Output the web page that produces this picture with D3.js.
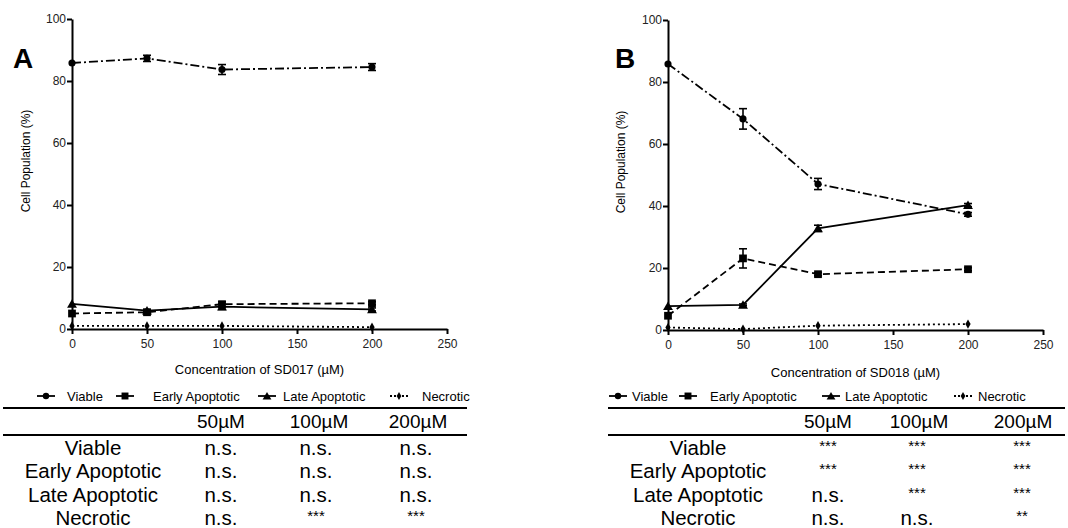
<!DOCTYPE html>
<html>
<head>
  <style>
    body { margin: 0; background: #fff; }
    text { font-family: "Liberation Sans", Arial, sans-serif; fill: #000; }
    .axis path, .axis line { stroke: #000; stroke-width: 2px; }
    .axis text { font-size: 12px; fill: #222; font-family: "Liberation Sans", Arial, sans-serif; }
  </style>
</head>
<body>
  <script src="https://d3js.org/d3.v7.min.js"></script>
  <script>
    var width = 1068, height = 528;

    // concentrations (µM)
    var doses = [0, 50, 100, 200];
    var seriesNames = ["Viable", "Early Apoptotic", "Late Apoptotic", "Necrotic"];

    // SD017 (panel A) means and SEM
    var viableA = [85.8, 87.3, 83.7, 84.5];
    var viableErrA = [0, 1.0, 1.6, 1.1];
    var earlyA = [5.0, 5.4, 8.0, 8.3];
    var earlyErrA = [0, 0.5, 0.8, 0.5];
    var lateA = [8.1, 5.9, 7.2, 6.3];
    var lateErrA = [0, 0.4, 0.9, 0.5];
    var necroticA = [1.0, 1.0, 1.0, 0.6];
    var necroticErrA = [0, 0, 0, 0];

    // SD018 (panel B)
    var viableB = [85.8, 68.1, 47.1, 37.3];
    var viableErrB = [0, 3.3, 1.8, 0.6];
    var earlyB = [4.6, 23.1, 18.0, 19.6];
    var earlyErrB = [0, 3.1, 0.5, 0.5];
    var lateB = [7.7, 8.1, 32.8, 40.3];
    var lateErrB = [0, 0.3, 1.0, 0.5];
    var necroticB = [0.8, 0.3, 1.4, 1.9];
    var necroticErrB = [0, 0, 0, 0];

    // significance table
    var tableCols = ["50µM", "100µM", "200µM"];
    var sigA = [
      ["n.s.", "n.s.", "n.s."],
      ["n.s.", "n.s.", "n.s."],
      ["n.s.", "n.s.", "n.s."],
      ["n.s.", "***", "***"]
    ];
    var sigB = [
      ["***", "***", "***"],
      ["***", "***", "***"],
      ["n.s.", "***", "***"],
      ["n.s.", "n.s.", "**"]
    ];

    var yTicks = [0, 20, 40, 60, 80, 100];
    var xTicks = [0, 50, 100, 150, 200, 250];

    var styles = [
      {dash: "9,3,2,3", marker: "circle"},
      {dash: "7,4", marker: "square"},
      {dash: null, marker: "triangle"},
      {dash: "2,3", marker: "diamond"}
    ];

    var svg = d3.select("body").append("svg")
        .attr("width", width)
        .attr("height", height);

    function marker(g, type, x, y, scale) {
      var sym = {circle: d3.symbolCircle, square: d3.symbolSquare, triangle: d3.symbolTriangle, diamond: d3.symbolDiamond}[type];
      var size = {circle: 40, square: 60, triangle: 42, diamond: 24}[type] * (scale || 1);
      g.append("path")
          .attr("d", d3.symbol().type(sym).size(size)())
          .attr("transform", "translate(" + x + "," + (type == "triangle" ? y + 1 : y) + ")")
          .attr("fill", "#000");
    }

    function panel(opts) {
      var g = svg.append("g");
      var x = d3.scaleLinear().domain([0, 250]).range([opts.x0, opts.x1]);
      var y = d3.scaleLinear().domain([0, 100]).range([opts.y0, opts.y1]);

      g.append("g").attr("class", "axis")
          .attr("transform", "translate(" + opts.x0 + ",0)")
          .call(d3.axisLeft(y).tickValues(yTicks).tickSize(5).tickSizeOuter(0).tickPadding(1));
      g.append("g").attr("class", "axis")
          .attr("transform", "translate(0," + opts.y0 + ")")
          .call(d3.axisBottom(x).tickValues(xTicks).tickSize(5).tickSizeOuter(0).tickPadding(5));

      g.append("text")
          .attr("transform", "translate(" + opts.ylabX + "," + opts.ylabY + ") rotate(-90)")
          .attr("text-anchor", "middle")
          .style("font-size", "12px")
          .text("Cell Population (%)");
      g.append("text")
          .attr("x", (opts.x0 + opts.x1) / 2).attr("y", opts.xlabY)
          .attr("text-anchor", "middle")
          .style("font-size", "13px")
          .text(opts.xlabel);
      g.append("text")
          .attr("x", opts.letterX).attr("y", 68)
          .style("font-size", "28px").style("font-weight", "bold")
          .text(opts.letter);

      var line = d3.line().x(function(d, i) { return x(doses[i]); }).y(function(d) { return y(d); });

      opts.series.forEach(function(s, k) {
        var st = styles[k];
        g.append("path")
            .attr("d", line(s.mean))
            .attr("fill", "none")
            .attr("stroke", "#000")
            .attr("stroke-width", 1.8)
            .attr("stroke-dasharray", st.dash);
        s.mean.forEach(function(v, i) {
          var e = s.err[i], cx = x(doses[i]);
          if (e > 0) {
            g.append("line").attr("x1", cx).attr("x2", cx).attr("y1", y(v - e)).attr("y2", y(v + e))
                .attr("stroke", "#000").attr("stroke-width", 1.6);
            [v - e, v + e].forEach(function(t) {
              g.append("line").attr("x1", cx - 4).attr("x2", cx + 4).attr("y1", y(t)).attr("y2", y(t))
                  .attr("stroke", "#000").attr("stroke-width", 1.6);
            });
          }
          marker(g, st.marker, cx, y(v));
        });
      });

      // legend
      seriesNames.forEach(function(name, k) {
        var lx = opts.legendX[k], ly = 396;
        g.append("line").attr("x1", lx).attr("x2", lx + 18).attr("y1", ly).attr("y2", ly)
            .attr("stroke", "#000").attr("stroke-width", 1.8)
            .attr("stroke-dasharray", k == 3 ? "2,2" : null);
        marker(g, styles[k].marker, lx + 9, ly, 0.8);
        g.append("text").attr("x", opts.legendTextX[k]).attr("y", ly + 5)
            .style("font-size", "13px").text(name);
      });

      // significance table
      g.append("line").attr("x1", opts.tx0).attr("x2", opts.tx1).attr("y1", 408).attr("y2", 408)
          .attr("stroke", "#000").attr("stroke-width", 2.2);
      g.append("line").attr("x1", opts.tx0).attr("x2", opts.tx1).attr("y1", 435).attr("y2", 435)
          .attr("stroke", "#000").attr("stroke-width", 2.2);
      tableCols.forEach(function(c, j) {
        g.append("text").attr("x", opts.colX[j]).attr("y", 428)
            .attr("text-anchor", "middle").style("font-size", "19px").text(c);
      });
      var rowY = [455, 478, 502, 525];
      seriesNames.forEach(function(name, r) {
        g.append("text").attr("x", opts.rowLabX).attr("y", rowY[r])
            .attr("text-anchor", "middle").style("font-size", "20.5px").text(name);
        opts.sig[r].forEach(function(v, j) {
          var star = v.indexOf("*") == 0;
          g.append("text").attr("x", opts.valX[j]).attr("y", star ? rowY[r] - 4 : rowY[r])
              .attr("text-anchor", "middle")
              .style("font-size", star ? "15px" : "20.5px")
              .text(v);
        });
      });
    }

    panel({
      x0: 72, x1: 447, y0: 329, y1: 19,
      ylabX: 30, ylabY: 161, xlabY: 374, xlabel: "Concentration of SD017 (µM)",
      letter: "A", letterX: 13,
      series: [
        {mean: viableA, err: viableErrA},
        {mean: earlyA, err: earlyErrA},
        {mean: lateA, err: lateErrA},
        {mean: necroticA, err: necroticErrA}
      ],
      legendX: [37, 116, 258, 390], legendTextX: [67, 153, 283, 422],
      tx0: 3, tx1: 467, colX: [221, 319, 418], valX: [221, 316, 416], rowLabX: 93, sig: sigA
    });

    panel({
      x0: 668, x1: 1043, y0: 330, y1: 20,
      ylabX: 625, ylabY: 162, xlabY: 377, xlabel: "Concentration of SD018 (µM)",
      letter: "B", letterX: 615,
      series: [
        {mean: viableB, err: viableErrB},
        {mean: earlyB, err: earlyErrB},
        {mean: lateB, err: lateErrB},
        {mean: necroticB, err: necroticErrB}
      ],
      legendX: [609, 679, 822, 954], legendTextX: [632, 710, 845, 978],
      tx0: 608, tx1: 1065, colX: [828, 919, 1023], valX: [828, 917, 1022], rowLabX: 698, sig: sigB
    });
  </script>
</body>
</html>
